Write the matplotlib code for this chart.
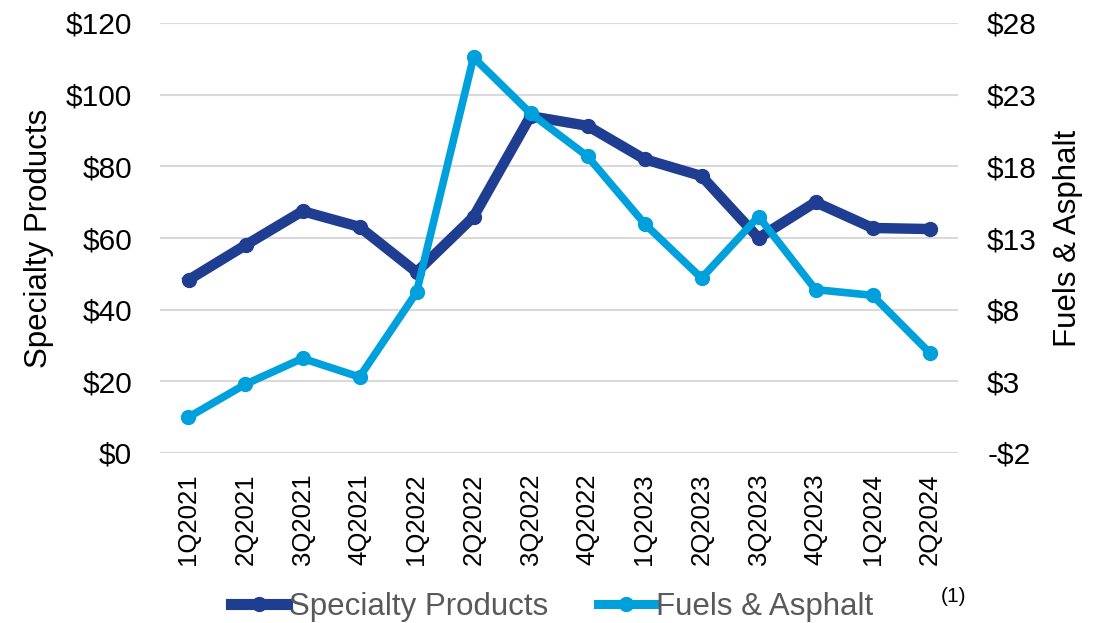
import matplotlib
matplotlib.use("Agg")
import matplotlib.pyplot as plt
from matplotlib.lines import Line2D
from matplotlib.ticker import FuncFormatter

plt.rcParams['font.family'] = ['Liberation Sans', 'DejaVu Sans']

quarters = ["1Q2021", "2Q2021", "3Q2021", "4Q2021", "1Q2022", "2Q2022", "3Q2022",
            "4Q2022", "1Q2023", "2Q2023", "3Q2023", "4Q2023", "1Q2024", "2Q2024"]
specialty = [48.3, 58.0, 67.5, 63.1, 50.5, 65.9, 94.0, 91.3, 82.0, 77.3, 60.0, 70.0, 62.8, 62.5]
fuels = [0.5, 2.8, 4.6, 3.3, 9.2, 25.6, 21.7, 18.7, 14.0, 10.2, 14.5, 9.4, 9.0, 5.0]

left_ticks = [0, 20, 40, 60, 80, 100, 120]
right_ticks = [-2, 3, 8, 13, 18, 23, 28]

dark_blue = "#1F3D91"
light_blue = "#00A0DC"
grid_grey = "#D9D9D9"

fig = plt.figure(figsize=(11.01, 6.23), dpi=100)
ax = fig.add_axes([160/1101, 1 - 453/623, (958 - 160)/1101, (453 - 23)/623])
ax2 = ax.twinx()

x = list(range(len(quarters)))
ax.plot(x, specialty, color=dark_blue, lw=7.5, marker='o', ms=10,
        solid_joinstyle='round', zorder=3)
ax2.plot(x, fuels, color=light_blue, lw=5.5, marker='o', ms=10,
         solid_joinstyle='round', zorder=3)

ax.set_xlim(-0.5, len(quarters) - 0.5)
ax.set_ylim(0, 120)
ax2.set_ylim(-2, 28)
ax.set_yticks(left_ticks)
ax2.set_yticks(right_ticks)

ax.yaxis.set_major_formatter(FuncFormatter(lambda v, p: f"${v:.0f}"))
ax2.yaxis.set_major_formatter(FuncFormatter(
    lambda v, p: f"-${abs(v):.0f}" if v < 0 else f"${v:.0f}"))

ax.set_xticks(x)
ax.set_xticklabels(quarters, rotation=90, fontsize=18.5, va='top')

ax.grid(axis='y', color=grid_grey, lw=1.5)
ax.set_axisbelow(True)
for a in (ax, ax2):
    for s in a.spines.values():
        s.set_visible(False)
    a.tick_params(length=0)

ax.tick_params(axis='y', labelsize=21.5, pad=20)
ax2.tick_params(axis='y', labelsize=21.5, pad=21)
ax.tick_params(axis='x', pad=15)

ax.set_ylabel("Specialty Products", fontsize=22.5)
ax.yaxis.set_label_coords((54 - 160)/798, 0.5)
ax2.set_ylabel("Fuels & Asphalt", fontsize=22.5, rotation=90)
ax2.yaxis.set_label_coords((1053 - 160)/798, 0.5)

handles = [
    Line2D([], [], color=dark_blue, lw=8, marker='o', ms=10),
    Line2D([], [], color=light_blue, lw=6.5, marker='o', ms=10),
]
leg = fig.legend(handles, ["Specialty Products", "Fuels & Asphalt"],
                 loc='center', bbox_to_anchor=(552/1101, 1 - 607/623),
                 ncol=2, frameon=False, fontsize=22.5, handlelength=1.8,
                 handletextpad=0.05, columnspacing=1.6, markerscale=1.0)
for t in leg.get_texts():
    t.set_color("#595959")

fig.text(954/1101, 1 - 597/623, "(1)", fontsize=15, ha='center', va='center')

fig.savefig("out.png", dpi=100)
